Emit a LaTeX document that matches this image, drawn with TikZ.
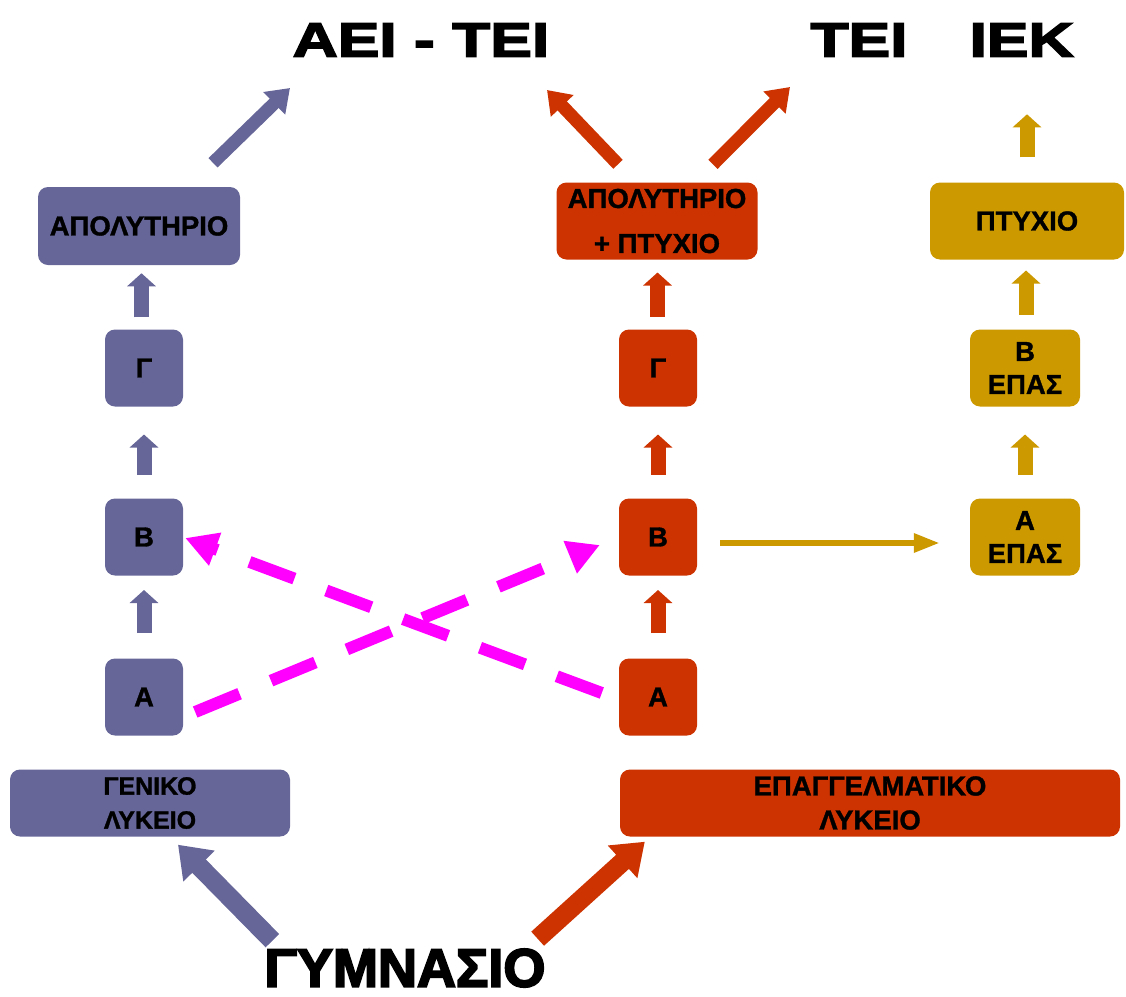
\documentclass[tikz,border=0pt]{standalone}
\usepackage{fontspec}
\setmainfont{Liberation Sans}
\newfontfamily\boxfont{Liberation Sans Bold}[FakeBold=1.2]
\newfontfamily\titlefont{Liberation Sans Bold}[FakeBold=3.5,FakeStretch=1.3]
\newfontfamily\gymfont{Liberation Sans Bold}[FakeBold=3.5]
\usetikzlibrary{arrows.meta,calc}
\definecolor{gen}{HTML}{666699}
\definecolor{epa}{HTML}{CC3300}
\definecolor{epas}{HTML}{CC9900}
\definecolor{cross}{HTML}{FF00FF}

\begin{document}
\begin{tikzpicture}[x=1pt,y=-1pt,
  box/.style={rounded corners=10pt, inner sep=0pt, align=center, text=black,
    font=\boxfont\fontsize{27.5}{33}\selectfont},
  sq/.style={box, minimum width=78pt, minimum height=77pt},
  epasbox/.style={box, minimum width=110pt, minimum height=77pt, fill=epas},
  upar/.style={line width=15pt, -{Triangle[width=28pt,length=13pt]}},
  diagar/.style={line width=13pt, -{Triangle[width=30pt,length=22pt]}},
  gymar/.style={line width=19pt, -{Triangle[width=42pt,length=30pt]}},
  crossar/.style={cross, line width=12pt, dash pattern=on 48pt off 34pt,
    -{Triangle[width=33pt,length=32pt]}},
  titletext/.style={inner sep=0pt, text=black, font=\titlefont\fontsize{48}{50}\selectfont}
]
\useasboundingbox (0,0) rectangle (1126,996);

% headings
\node[titletext] (tA) at (421,40) {ΑΕΙ - ΤΕΙ};
\node[titletext] (tB) at (942,40) {ΤΕΙ\hspace{62pt}ΙΕΚ};
\node[inner sep=0pt, text=black, font=\gymfont\fontsize{54}{58}\selectfont] (gym) at (405,968) {ΓΥΜΝΑΣΙΟ};

% general lyceum column
\node[box, fill=gen, minimum width=202pt, minimum height=78pt] (lapol) at (139,226) {ΑΠΟΛΥΤΗΡΙΟ};
\node[sq, fill=gen] (lg) at (144,368) {Γ};
\node[sq, fill=gen] (lb) at (144,537) {Β};
\node[sq, fill=gen] (la) at (144,697) {Α};
\node[box, fill=gen, minimum width=280pt, minimum height=67pt,
  font=\boxfont\fontsize{25}{34}\selectfont] (gl) at (150,803) {ΓΕΝΙΚΟ\\ΛΥΚΕΙΟ};

% vocational lyceum column
\node[box, fill=epa, minimum width=201pt, minimum height=77pt,
  font=\boxfont\fontsize{27.5}{45}\selectfont] (mapol) at (657,221) {ΑΠΟΛΥΤΗΡΙΟ\\+ ΠΤΥΧΙΟ};
\node[sq, fill=epa] (mg) at (658,368) {Γ};
\node[sq, fill=epa] (mb) at (658,537) {Β};
\node[sq, fill=epa] (ma) at (658,697) {Α};
\node[box, fill=epa, minimum width=500pt, minimum height=67pt,
  font=\boxfont\fontsize{27.5}{34}\selectfont] (el) at (870,803) {ΕΠΑΓΓΕΛΜΑΤΙΚΟ\\ΛΥΚΕΙΟ};

% vocational school column
\node[box, fill=epas, minimum width=194pt, minimum height=77pt] (rp) at (1027,221) {ΠΤΥΧΙΟ};
\node[epasbox] (rb) at (1025,368) {Β\\ΕΠΑΣ};
\node[epasbox] (ra) at (1025,537) {Α\\ΕΠΑΣ};

% arrow ends pointing at the headings
\coordinate (endA) at (290,88);
\coordinate (endB) at (547,90);
\coordinate (endC) at (790,87);

% short upward steps
\draw[upar, gen] ($(lapol.south)!0.5!(lg.north)$) +(0,20) -- +(0,-24);
\draw[upar, gen] ($(lg.south)!0.5!(lb.north)$) +(0,22) -- +(0,-18);
\draw[upar, gen] ($(lb.south)!0.5!(la.north)$) +(0,16) -- +(0,-27);
\draw[upar, epa] ($(mapol.south)!0.5!(mg.north)$) +(0,22) -- +(0,-22);
\draw[upar, epa] ($(mg.south)!0.5!(mb.north)$) +(0,22) -- +(0,-18);
\draw[upar, epa] ($(mb.south)!0.5!(ma.north)$) +(0,16) -- +(0,-27);
\draw[upar, epas] ($(rb.north)!0.5!(rp.south)$) +(0,20) -- +(0,-24);
\draw[upar, epas] ($(ra.north)!0.5!(rb.south)$) +(0,22) -- +(0,-18);
\draw[upar, epas] ($(rp.north)+(0,-25)$) -- ($(rp.north)+(0,-68)$);

% diagonal arrows towards the headings
\draw[diagar, gen] ($(lapol.north)+(74,-24)$) -- (endA);
\draw[diagar, epa] ($(mapol.north)+(-39,-18)$) -- (endB);
\draw[diagar, epa] ($(mapol.north)+(56,-18)$) -- (endC);

% from the gymnasium to the two lyceums
\draw[gymar, gen] ($(gym.north west)+(8,-8)$) -- ($(gl.south)+(28,8)$);
\draw[gymar, epa] ($(gym.north east)+(-8,-10)$) -- ($(el.south west)+(25,5)$);

% transfer to the vocational school
\draw[epas, line width=6pt, -{Triangle[width=18pt,length=26pt]}]
  ($(mb.east)+(23,6)$) -- ($(ra.west)+(-30,6)$);

% crossing transfers between the lyceums
\draw[crossar] ($(la.east)+(12,15)$) -- ($(mb.west)+(-19,8)$);
\draw[crossar] ($(ma.west)+(-17,-4)$) -- ($(lb.east)+(2,1)$);
\end{tikzpicture}
\end{document}
